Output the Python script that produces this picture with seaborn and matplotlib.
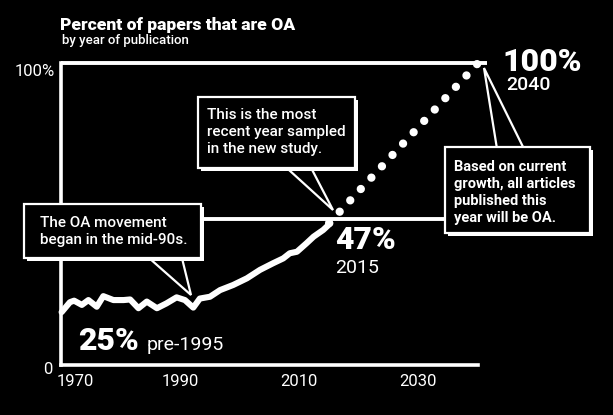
import matplotlib
matplotlib.use("Agg")
import matplotlib.pyplot as plt
import matplotlib.transforms as mtransforms
from matplotlib.patches import Rectangle, Polygon
import seaborn as sns
import pandas as pd

# ---------------- data ----------------
oa_years = [1970.1, 1971.5, 1972.2, 1973.5, 1974.6, 1976.0, 1977.1, 1978.8, 1980.5,
            1981.6, 1983.0, 1984.4, 1986.1, 1987.7, 1989.4, 1990.8, 1992.2, 1993.3,
            1995.0, 1996.7, 1998.9, 2001.2, 2003.4, 2005.6, 2007.3, 2008.4, 2009.6,
            2011.2, 2012.4, 2014.0, 2015.2]
oa_pct = [17.5, 20.8, 21.3, 19.9, 21.5, 19.3, 22.8, 21.5, 21.5,
          21.7, 18.8, 21.0, 18.8, 20.4, 22.4, 21.5, 19.0, 22.0,
          22.6, 24.8, 26.5, 28.7, 31.5, 33.7, 35.3, 37.0, 37.5,
          40.3, 42.5, 44.7, 46.9]
proj_years = [2015, 2040]
proj_pct = [47, 100]
ref_line_pct = [100, 48.3]
x_ticks = [1970, 1980, 1990, 2000, 2010, 2020, 2030, 2040]
x_tick_labels = ["1970", "", "1990", "", "2010", "", "2030", ""]
y_ticks = [0, 100]
y_tick_labels = ["0", "100%"]

title = "Percent of papers that are OA"
subtitle = "by year of publication"
note_start = "The OA movement\nbegan in the mid-90s."
note_recent = "This is the most\nrecent year sampled\nin the new study."
note_future = "Based on current\ngrowth, all articles\npublished this\nyear will be OA."
big_labels = [("100%", "2040"), ("47%", "2015"), ("25%", "pre-1995")]

# ---------------- style ----------------
sns.set_style("dark", {"axes.facecolor": "black", "figure.facecolor": "black",
                       "axes.edgecolor": "white", "text.color": "white",
                       "xtick.color": "white", "ytick.color": "white",
                       "axes.grid": False})
plt.rcParams["font.family"] = ["Roboto", "DejaVu Sans"]

W, H = 613, 415
fig = plt.figure(figsize=(W / 100, H / 100), dpi=100)
fig.patch.set_facecolor("black")
ax = fig.add_axes([61 / W, (H - 365) / H, (487 - 61) / W, (365 - 63) / H])
ax.set_facecolor("black")
px = mtransforms.Affine2D().scale(1 / W, -1 / H).translate(0, 1) + fig.transFigure

df = pd.DataFrame({"year": oa_years, "pct": oa_pct})
dp = pd.DataFrame({"year": proj_years, "pct": proj_pct})

# reference lines
for v, xr in zip(ref_line_pct, [(1970, 2041.5), (1970, 2035)]):
    ax.plot(list(xr), [v, v], color="white", lw=2.8, solid_capstyle="butt",
            clip_on=False, zorder=2)

sns.lineplot(data=df, x="year", y="pct", ax=ax, color="white", lw=4.4,
             solid_capstyle="round", solid_joinstyle="round", zorder=3)
n_before = len(ax.lines)
sns.lineplot(data=dp, x="year", y="pct", ax=ax, color="white", lw=6.0, zorder=3)
proj_line = ax.lines[n_before]
proj_line.set_linestyle((0, (0.001, 1.86)))
proj_line.set_dash_capstyle("round")
for ln in ax.lines:
    ln.set_clip_on(False)

ax.set_xlim(1970, 2041.5)
ax.set_ylim(0, 100)
ax.set_xlabel("")
ax.set_ylabel("")
for s in ["top", "right"]:
    ax.spines[s].set_visible(False)
for s in ["left", "bottom"]:
    ax.spines[s].set_color("white")
    ax.spines[s].set_linewidth(2.6)
ax.spines["bottom"].set_bounds(1970, 2040)

ax.set_xticks(x_ticks)
ax.set_xticklabels(x_tick_labels)
ax.set_yticks(y_ticks)
ax.set_yticklabels(y_tick_labels)
ax.tick_params(axis="x", direction="out", length=2.5, width=3, colors="white",
               labelsize=12, pad=4)
ax.tick_params(axis="y", length=0, labelsize=12, pad=5, colors="white")
xl = ax.get_xticklabels()
xl[0].set_transform(xl[0].get_transform() +
                    mtransforms.ScaledTranslation(14 / 100, 0, fig.dpi_scale_trans))
yl = ax.get_yticklabels()
yl[0].set_transform(yl[0].get_transform() +
                    mtransforms.ScaledTranslation(-2 / 100, -3 / 100, fig.dpi_scale_trans))
yl[1].set_transform(yl[1].get_transform() +
                    mtransforms.ScaledTranslation(1 / 100, -7 / 100, fig.dpi_scale_trans))

# titles
fig.text(60, 30, title, transform=px, fontsize=12.6, fontweight="heavy",
         color="white", va="baseline", ha="left")
fig.text(62, 44, subtitle, transform=px, fontsize=9.5, fontweight="medium",
         color="white", va="baseline", ha="left")

# callouts
def callout(box, wedge, text, tx, ty, size, weight):
    x0, y0, x1, y1 = box
    fig.add_artist(Polygon(wedge, closed=True, transform=px, facecolor="black",
                           edgecolor="white", lw=1.6, zorder=5))
    fig.add_artist(Rectangle((x0 + 3, y0 + 3), x1 - x0, y1 - y0, transform=px,
                             facecolor="white", edgecolor="white", lw=0, zorder=6))
    fig.add_artist(Rectangle((x0, y0), x1 - x0, y1 - y0, transform=px,
                             facecolor="black", edgecolor="white", lw=1.6, zorder=7))
    fig.text(tx, ty, text, transform=px, fontsize=size, fontweight=weight,
             color="white", va="center", ha="left", linespacing=1.25, zorder=8)

callout((24, 204, 201, 258), [(140, 250), (180, 250), (191, 295)],
        note_start, 40, 231.5, 11, "medium")
callout((198, 97, 355, 168), [(278, 160), (307, 160), (333, 210)],
        note_recent, 207, 132, 11, "medium")
callout((445, 147, 590, 233), [(498, 155), (527, 155), (484, 68)],
        note_future, 454, 192.5, 10.5, "bold")

# big labels
pos = [((502, 71), (506, 90)), ((335, 249), (335, 273)), ((78, 350), (147, 350))]
for (big, small), ((bx, by), (sx, sy)) in zip(big_labels, pos):
    fig.text(bx, by, big, transform=px, fontsize=23, fontweight="heavy",
             color="white", va="baseline", ha="left", zorder=9)
    fig.text(sx, sy, small, transform=px, fontsize=14,
             fontweight="medium" if small == "2040" else "normal",
             color="white", va="baseline", ha="left", zorder=9)

fig.savefig("out.png", dpi=100, facecolor="black")
